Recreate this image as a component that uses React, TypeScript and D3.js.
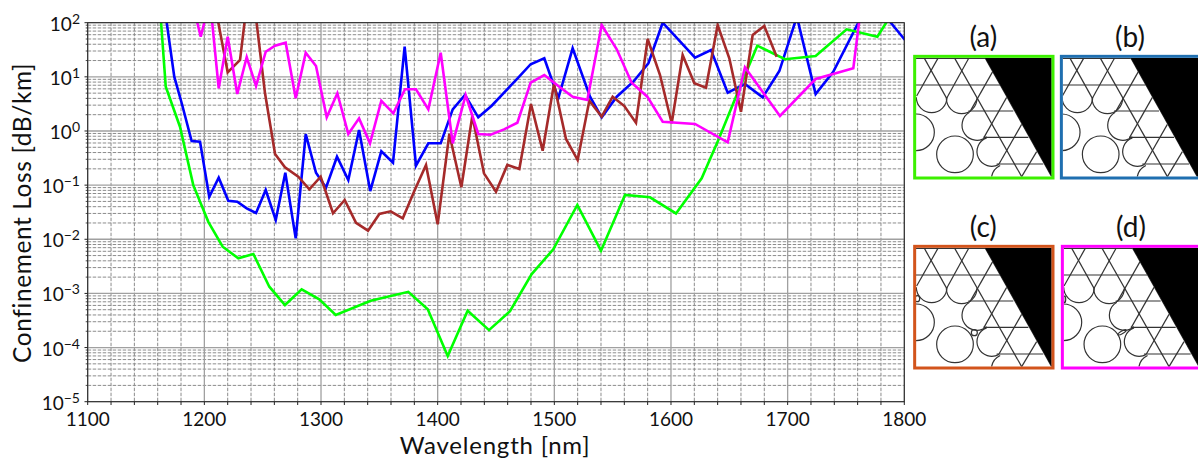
import React from "react";
import * as d3 from "d3";

// values: wavelength [nm], loss [dB/km]
const greenWl = [1161.5, 1166.9, 1179.1, 1190.5, 1203.4, 1215.7, 1229.1, 1242, 1255.7, 1269.1, 1283.4, 1298.5, 1312.6, 1342.6, 1374.8, 1391.5, 1408.6, 1425.7, 1444, 1462, 1480.6, 1499.1, 1519.7, 1540, 1560.6, 1582, 1604.3, 1626.3, 1640.6, 1656.3, 1674, 1697.7, 1724, 1750.6, 1776.9, 1790.3];
const greenLoss = [263, 6.6, 1.2, 0.1, 0.021, 0.0073, 0.00445, 0.00535, 0.00133, 0.00061, 0.00119, 0.00078, 0.0004, 0.00073, 0.00107, 0.00051, 0.00007, 0.00048, 0.00021, 0.00047, 0.00228, 0.00653, 0.043, 0.00615, 0.0658, 0.0596, 0.03, 0.134, 0.68, 4.6, 37.6, 21.1, 24.3, 75.5, 55, 158];

const blueWl = [1165, 1174.2, 1180.6, 1189.1, 1196.3, 1204.2, 1212.3, 1220.5, 1228.2, 1236.3, 1244.3, 1252.6, 1261.2, 1269.4, 1278.3, 1286.9, 1295.7, 1304.3, 1313.7, 1323.4, 1332.6, 1342.2, 1351.7, 1361.7, 1371.7, 1381.4, 1392, 1402.6, 1412.9, 1423.4, 1434.8, 1446.3, 1467.7, 1479.7, 1491.4, 1503.4, 1515.7, 1530.6, 1540.6, 1553.5, 1567.7, 1580.6, 1592.9, 1620.6, 1634.3, 1648.6, 1663.4, 1678.6, 1692.9, 1707.9, 1724, 1739.1, 1760.6, 1774, 1787.7, 1800.6];
const blueLoss = [263, 10.1, 3.25, 0.653, 0.634, 0.061, 0.137, 0.0515, 0.0494, 0.0373, 0.0306, 0.0813, 0.0227, 0.169, 0.0104, 0.879, 0.169, 0.0895, 0.335, 0.124, 1.04, 0.0778, 0.422, 0.259, 36, 0.229, 0.592, 0.592, 2.51, 4.62, 1.79, 2.93, 9, 17.1, 22, 4.02, 33.6, 4.3, 1.79, 4.3, 8.13, 17.8, 100, 22.6, 31.3, 5.1, 7.37, 4.19, 12.8, 129, 4.82, 12.4, 100, 212, 104, 48];

const brownWl = [1208.3, 1220, 1230.6, 1239.6, 1252, 1260.6, 1269.1, 1280.5, 1290, 1299.7, 1310.3, 1320.3, 1330, 1340.3, 1350, 1359.7, 1370.1, 1379.7, 1390, 1400, 1410, 1420.3, 1429.7, 1439.7, 1450, 1459.7, 1470, 1480, 1490, 1499.7, 1510, 1520, 1530, 1540.6, 1550, 1560, 1570, 1580, 1590.6, 1600.6, 1610, 1620, 1630, 1640, 1650, 1660, 1670, 1680, 1690.6];
const brownLoss = [263, 12.1, 20.5, 863, 4.97, 0.376, 0.213, 0.143, 0.0838, 0.143, 0.0302, 0.0531, 0.0202, 0.0144, 0.0293, 0.0328, 0.0244, 0.0755, 0.236, 0.0189, 0.879, 0.0912, 1.89, 0.165, 0.0755, 0.236, 0.199, 3.15, 0.433, 7.37, 0.711, 0.291, 3.62, 1.84, 4.3, 2.89, 1.42, 50, 10.8, 1.39, 25.3, 7.6, 6.3, 90.7, 22, 2.27, 59.3, 87, 23.6];

const magentaWl = [1189.2, 1196.9, 1204.8, 1212.3, 1220, 1228.2, 1236.3, 1244.3, 1252.6, 1260.6, 1269.7, 1278.3, 1286.9, 1295.7, 1304.9, 1314, 1323.4, 1332.6, 1342, 1351.7, 1362, 1372, 1381.4, 1392, 1402.6, 1412.9, 1424, 1434.8, 1445.4, 1456.9, 1468.3, 1479.7, 1491.4, 1503.4, 1515.7, 1528.3, 1540.6, 1553.5, 1566.3, 1579.7, 1592.9, 1620.6, 1648.6, 1663.4, 1693.4, 1724, 1756.3, 1763.6];
const magentaLoss = [263, 55, 263, 6.13, 55, 4.82, 23, 6.78, 29.1, 37.6, 42.8, 4.02, 27.9, 15.9, 1.79, 4.97, 0.879, 1.71, 0.592, 3.62, 2.12, 5.89, 5.89, 2.51, 27.9, 0.592, 4.62, 0.879, 0.853, 1.07, 1.42, 7.8, 10.8, 6.78, 4.3, 3.73, 90.7, 32.3, 7.8, 4.3, 1.48, 1.35, 0.618, 15, 1.89, 9.12, 14.4, 263];

const xTicks = [1100, 1200, 1300, 1400, 1500, 1600, 1700, 1800];
const xMinor = d3.range(1100, 1801, 20).filter((v) => v % 100 !== 0);
const yExps = [2, 1, 0, -1, -2, -3, -4, -5];
const yMinor = d3.range(-5, 2).flatMap((e) => d3.range(2, 10).map((m) => m * 10 ** e));

// fibre cross-section sketches, in the units of one 3x crop of a panel
const panelNames = ["(a)", "(b)", "(c)", "(d)"];
const panelColors = ["#3cf000", "#1f6fb0", "#d2541c", "#ff00ff"];
const panelTx = [905, 1051.7, 905, 1052.7];
const panelTy = [20, 20, 210, 210];
const panelShift = [0, -3, 0, -1];
const latticeSegs = [
  [33, 115, 240, 115], [33, 195, 285, 195], [190, 273, 325, 273], [235, 352, 370, 352], [275, 432, 415, 432],
  [57, 113, 125, 235], [148, 113, 350, 470], [240, 113, 440, 470],
  [100, 113, 35, 228], [192, 113, 125, 235], [263, 155, 195, 275], [305, 232, 237, 352], [350, 313, 282, 432], [395, 395, 350, 470],
];
// cx, cy, r, start and end angle in degrees
const latticeArcs = [
  [80, 232, 46, 0, 180], [170, 235, 46, 0, 180], [216, 316, 45, 50, 240],
  [33, 337, 55, -90, 90], [150, 403, 55, 0, 360], [260, 395, 44, 60, 250], [305, 478, 46, 190, 245],
];
const blackWedge = [[240, 113], [470, 113], [470, 470], [440, 470]];
// cx, cy, rx, ry, rotation
const extras = [
  [],
  [],
  [[208, 368, 9, 9, 0], [37, 266, 7, 9, 0]],
  [[209, 367, 14, 4, -30], [37, 268, 3, 10, 0]],
];

const width = 1198;
const height = 459;
const font = "Lato, sans-serif";

const arcPath = ([cx, cy, r, a0, a1]: number[]) => {
  const p = d3.path();
  p.arc(cx, cy, r, (a0 * Math.PI) / 180, (a1 * Math.PI) / 180);
  return p.toString();
};

const App = () => {
  const xScale = d3.scaleLinear().domain([1100, 1800]).range([87.7, 904.3]);
  const yScale = d3.scaleLog().domain([1e-5, 100]).range([401.7, 22.7]);
  const lineGen = d3
    .line<[number, number]>()
    .x((d) => xScale(d[0]))
    .y((d) => yScale(d[1]));

  const series = [
    { wl: blueWl, loss: blueLoss, color: "#0000ff" },
    { wl: greenWl, loss: greenLoss, color: "#00ff00" },
    { wl: brownWl, loss: brownLoss, color: "#a52a2a" },
    { wl: magentaWl, loss: magentaLoss, color: "#ff00ff" },
  ];

  return (
    <svg width={width} height={height} style={{ position: "absolute", left: 0, top: 0, background: "#fff" }} fontFamily={font}>
      <defs>
        <clipPath id="plot">
          <rect x={87.7} y={22.7} width={816.6} height={379} />
        </clipPath>
        <clipPath id="panel">
          <rect x={33} y={113} width={407} height={357} />
        </clipPath>
      </defs>

      {/* grid */}
      {yMinor.map((v) => (
        <line key={v} x1={87.7} x2={904.3} y1={yScale(v)} y2={yScale(v)} stroke="#8c8c8c" strokeWidth={1} strokeDasharray="3.5 1.5" />
      ))}
      {xMinor.map((v) => (
        <line key={v} x1={xScale(v)} x2={xScale(v)} y1={22.7} y2={401.7} stroke="#8c8c8c" strokeWidth={1} strokeDasharray="3.5 1.5" />
      ))}
      {yExps.map((e) => (
        <line key={e} x1={87.7} x2={904.3} y1={yScale(10 ** e)} y2={yScale(10 ** e)} stroke="#a0a0a0" strokeWidth={1.3} />
      ))}
      {xTicks.map((v) => (
        <line key={v} x1={xScale(v)} x2={xScale(v)} y1={22.7} y2={401.7} stroke="#a0a0a0" strokeWidth={1.3} />
      ))}

      {/* curves */}
      <g clipPath="url(#plot)">
        {series.map((s) => (
          <path
            key={s.color}
            d={lineGen(s.wl.map((w, i) => [w, s.loss[i]] as [number, number])) as string}
            fill="none"
            stroke={s.color}
            strokeWidth={2.6}
            strokeLinejoin="miter"
          />
        ))}
      </g>

      {/* axes */}
      <rect x={87.7} y={22.7} width={816.6} height={379} fill="none" stroke="#222" strokeWidth={1} />
      {xTicks.concat(xMinor).map((v) => (
        <line key={v} x1={xScale(v)} x2={xScale(v)} y1={401.7} y2={405} stroke="#222" strokeWidth={1} />
      ))}
      {yExps.map((e) => (
        <line key={e} x1={84.5} x2={87.7} y1={yScale(10 ** e)} y2={yScale(10 ** e)} stroke="#222" strokeWidth={1} />
      ))}
      {yMinor.map((v) => (
        <line key={v} x1={85.7} x2={87.7} y1={yScale(v)} y2={yScale(v)} stroke="#222" strokeWidth={0.8} />
      ))}
      {xTicks.map((v) => (
        <text key={v} x={xScale(v)} y={426} textAnchor="middle" fontSize={19} fill="#111">
          {v}
        </text>
      ))}
      {yExps.map((e) => (
        <text key={e} x={80} y={yScale(10 ** e) + 8} textAnchor="end" fontSize={19} fill="#111">
          10
          <tspan dy={-7} fontSize={14}>
            {e < 0 ? `\u2212${-e}` : e}
          </tspan>
        </text>
      ))}
      <text x={495} y={454} textAnchor="middle" fontSize={24} fill="#111" letterSpacing={0.8}>
        Wavelength [nm]
      </text>
      <text transform="translate(31,213) rotate(-90)" textAnchor="middle" fontSize={24.5} fill="#111" letterSpacing={0.6}>
        Confinement Loss [dB/km]
      </text>

      {/* panels */}
      {panelNames.map((name, i) => (
        <g key={name} transform={`translate(${panelTx[i]},${panelTy[i]}) scale(${1 / 3})`}>
          <text x={235} y={80} textAnchor="middle" fontSize={84} fill="#111">
            {name}
          </text>
          <g clipPath="url(#panel)">
            <rect x={33} y={113} width={407} height={357} fill="#fff" />
            <g transform={`translate(${panelShift[i]},0)`} fill="none" stroke="#333" strokeWidth={3.6}>
              {latticeSegs.map((s, k) => (
                <line key={k} x1={s[0]} y1={s[1]} x2={s[2]} y2={s[3]} />
              ))}
              {latticeArcs.map((a, k) => (
                <path key={k} d={arcPath(a)} />
              ))}
              {extras[i].map((e, k) => (
                <ellipse key={k} cx={e[0]} cy={e[1]} rx={e[2]} ry={e[3]} transform={`rotate(${e[4]} ${e[0]} ${e[1]})`} />
              ))}
              <polygon points={blackWedge.map((p) => p.join(",")).join(" ")} fill="#000" stroke="none" />
            </g>
          </g>
          <rect x={29} y={109} width={415} height={365} fill="none" stroke={panelColors[i]} strokeWidth={9} />
        </g>
      ))}
    </svg>
  );
};

export default App;
